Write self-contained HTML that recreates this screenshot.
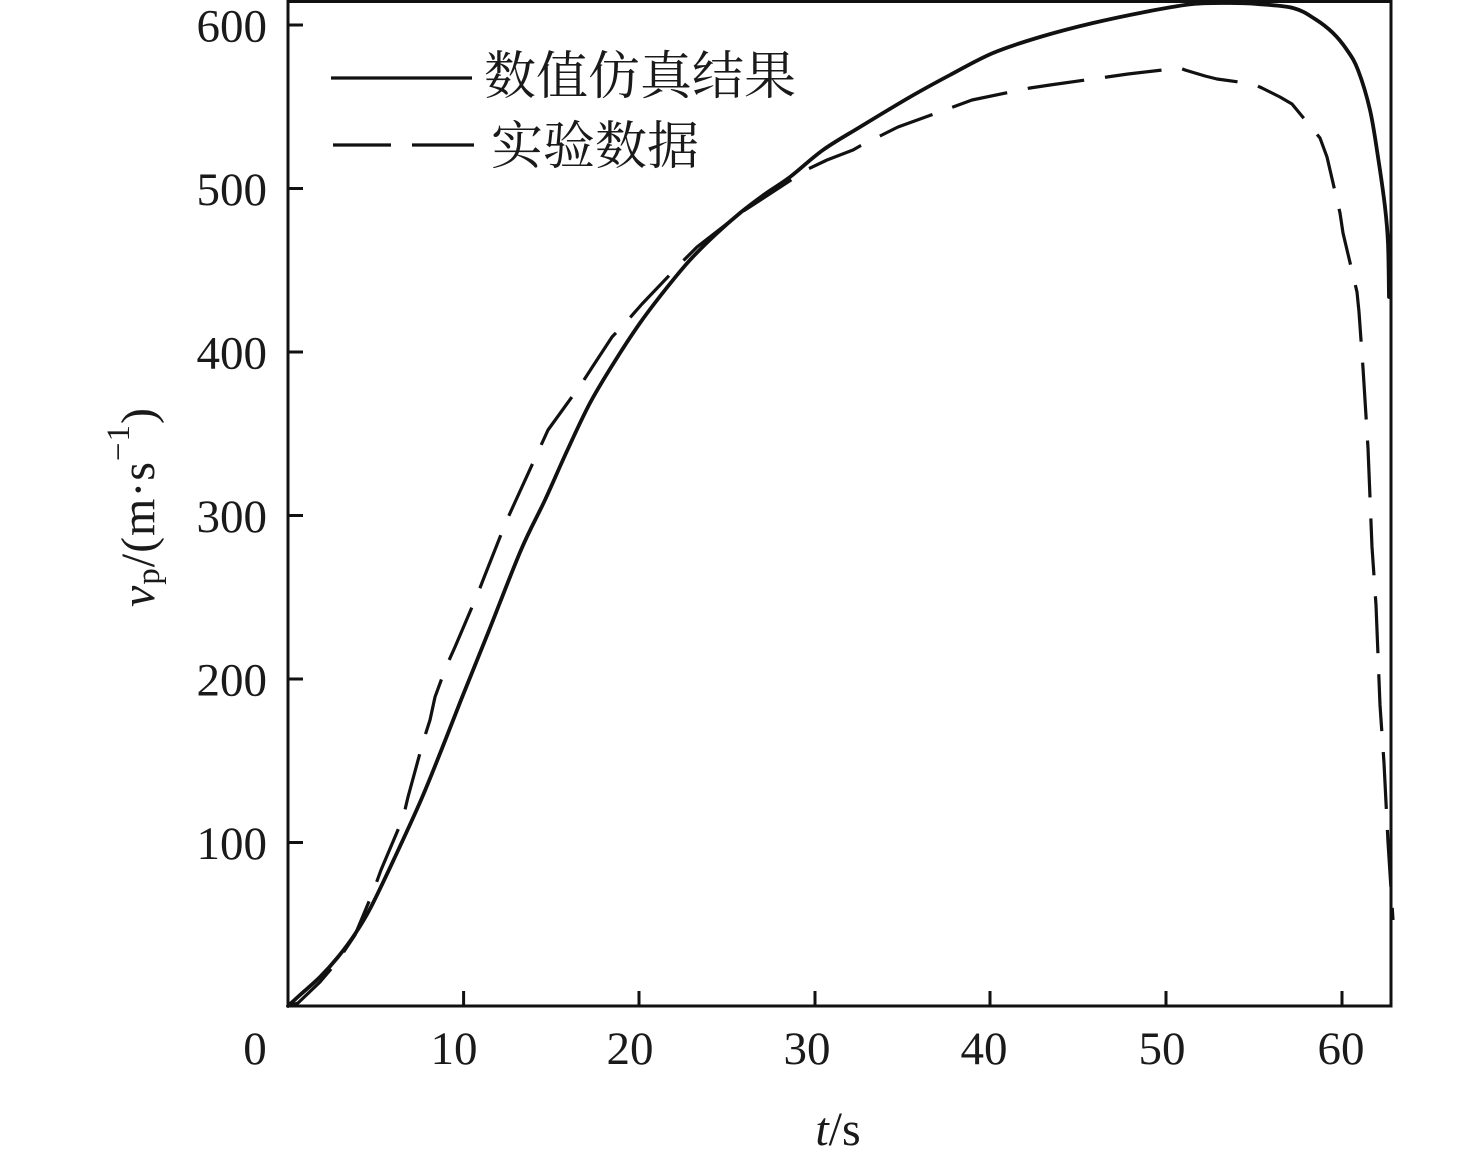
<!DOCTYPE html>
<html>
<head>
<meta charset="utf-8">
<style>
  html, body { margin: 0; padding: 0; background: #ffffff; }
  body { width: 1476px; height: 1162px; overflow: hidden; }
  svg { display: block; }
  .num { font-family: "Liberation Serif", serif; font-size: 47px; fill: #1a1a1a; }
  .cjk { font-family: "Liberation Serif", "Noto Serif CJK SC", "Noto Sans CJK SC", serif; font-size: 52px; fill: #1a1a1a; }
</style>
</head>
<body>
<svg width="1476" height="1162" viewBox="0 0 1476 1162" xmlns="http://www.w3.org/2000/svg">
  <rect x="0" y="0" width="1476" height="1162" fill="#ffffff"/>

  <!-- Axes frame -->
  <rect x="288" y="1.5" width="1103" height="1004.5" fill="none" stroke="#111" stroke-width="3"/>

  <!-- Y ticks -->
  <g stroke="#111" stroke-width="3">
    <line x1="288" y1="25" x2="303" y2="25"/>
    <line x1="288" y1="188.5" x2="303" y2="188.5"/>
    <line x1="288" y1="352" x2="303" y2="352"/>
    <line x1="288" y1="515.5" x2="303" y2="515.5"/>
    <line x1="288" y1="679" x2="303" y2="679"/>
    <line x1="288" y1="842.5" x2="303" y2="842.5"/>
  </g>
  <!-- X ticks -->
  <g stroke="#111" stroke-width="3">
    <line x1="463.6" y1="1006" x2="463.6" y2="991"/>
    <line x1="639" y1="1006" x2="639" y2="991"/>
    <line x1="815" y1="1006" x2="815" y2="991"/>
    <line x1="990" y1="1006" x2="990" y2="991"/>
    <line x1="1166" y1="1006" x2="1166" y2="991"/>
    <line x1="1342" y1="1006" x2="1342" y2="991"/>
  </g>

  <!-- Y tick labels -->
  <g class="num" text-anchor="end">
    <text x="267" y="41.5">600</text>
    <text x="267" y="205">500</text>
    <text x="267" y="368.5">400</text>
    <text x="267" y="532">300</text>
    <text x="267" y="695.5">200</text>
    <text x="267" y="859">100</text>
  </g>
  <!-- X tick labels -->
  <g class="num" text-anchor="middle">
    <text x="255" y="1064">0</text>
    <text x="454" y="1064">10</text>
    <text x="630" y="1064">20</text>
    <text x="807" y="1064">30</text>
    <text x="984" y="1064">40</text>
    <text x="1162" y="1064">50</text>
    <text x="1341" y="1064">60</text>
  </g>

  <!-- X axis label -->
  <text x="838" y="1145" text-anchor="middle" font-family="Liberation Serif, serif" font-size="48" fill="#1a1a1a"><tspan font-style="italic">t</tspan>/s</text>

  <!-- Y axis label -->
  <text transform="translate(154,507.5) rotate(-90)" text-anchor="middle" textLength="199" lengthAdjust="spacing" font-family="Liberation Serif, serif" font-size="48" fill="#1a1a1a"><tspan font-style="italic">v</tspan><tspan font-size="33" dy="5">p</tspan><tspan dy="-5">/(m·s</tspan><tspan font-size="33" dy="-25">−1</tspan><tspan dy="25">)</tspan></text>

  <!-- Simulation (solid) -->
  <polyline id="sim" fill="none" stroke="#111" stroke-width="3.8" stroke-linejoin="round" stroke-linecap="round"
    points="288,1006 300,995 320,977 338,957 355,934 371,907 395,857 421,800 441,751 461,700 488,633 521,550 545,500 567,451 590,403 615,361 640,323 665,290 690,260 715,235 740,213 765,194 790,177 823,150 860,127 910,97 950,75 993,53 1040,37 1093,23 1150,11 1193,4 1230,3 1257,4 1293,8 1315,19 1333,33 1347,50 1358,70 1370,110 1378,157 1385,207 1388,243 1389,297"/>
  <path id="simSmooth" fill="none" stroke="#111" stroke-width="3.8" stroke-linejoin="round" stroke-linecap="round" d=""/>

  <!-- Experimental (dashed) -->
  <polyline fill="none" stroke="#111" stroke-width="3.2" stroke-dasharray="57 21" stroke-linejoin="round"
    points="289,1006 298,1003 320,982 337,962 355,935 373,892 381,870 403,818 408,797 423,742 430,720 435,697 446,667 455,647 478,593 485,575 506,522 516,500 548,430 582,383 593,366 612,337 628,320 642,304 682,262 697,247 742,212 808,169 827,160 853,150 860,146 880,136 898,127 953,107 972,100 1030,88 1050,85 1107,77 1128,74 1180,68 1185,70 1205,76 1217,79 1253,84 1262,88 1280,97 1292,104 1320,138 1327,157 1340,213 1343,233 1357,292 1359,312 1363,368 1368,448 1372,547 1376,605 1380,705 1384,763 1388,842 1393,920"/>

  <!-- Legend -->
  <line x1="331" y1="78" x2="472" y2="78" stroke="#111" stroke-width="3.2"/>
  <line x1="333" y1="145" x2="391" y2="145" stroke="#111" stroke-width="3.2"/>
  <line x1="412" y1="145" x2="474" y2="145" stroke="#111" stroke-width="3.2"/>
  <text class="cjk" x="484" y="94">数值仿真结果</text>
  <text class="cjk" x="491" y="164">实验数据</text>
</svg>
<script>
(function(){
  try {
    var pl = document.getElementById('sim');
    var raw = pl.getAttribute('points').trim().split(/\s+/).map(function(s){var a=s.split(',');return [parseFloat(a[0]),parseFloat(a[1])];});
    var n = raw.length;
    var d = 'M' + raw[0][0] + ',' + raw[0][1];
    for (var i = 0; i < n - 1; i++) {
      var p0 = raw[Math.max(i-1,0)], p1 = raw[i], p2 = raw[i+1], p3 = raw[Math.min(i+2,n-1)];
      var c1x = p1[0] + (p2[0]-p0[0])/6, c1y = p1[1] + (p2[1]-p0[1])/6;
      var c2x = p2[0] - (p3[0]-p1[0])/6, c2y = p2[1] - (p3[1]-p1[1])/6;
      d += ' C' + c1x.toFixed(2) + ',' + c1y.toFixed(2) + ' ' + c2x.toFixed(2) + ',' + c2y.toFixed(2) + ' ' + p2[0] + ',' + p2[1];
    }
    document.getElementById('simSmooth').setAttribute('d', d);
    pl.setAttribute('stroke', 'none');
  } catch(e) {}
})();
</script>
</body>
</html>
